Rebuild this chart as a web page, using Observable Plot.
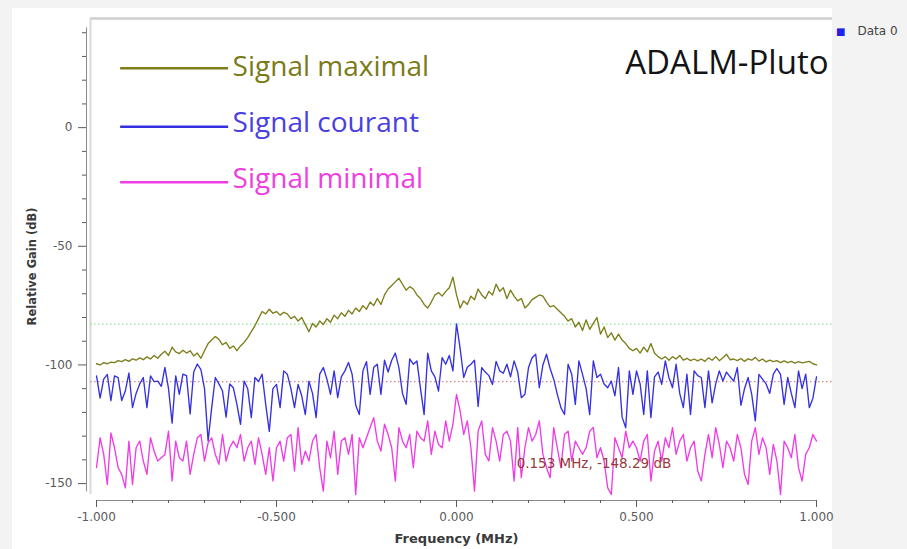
<!DOCTYPE html>
<html><head><meta charset="utf-8">
<script src="https://cdn.jsdelivr.net/npm/d3@7"></script>
<script src="https://cdn.jsdelivr.net/npm/@observablehq/plot@0.6"></script>
<style>
html,body{margin:0;padding:0;}
body{width:907px;height:549px;overflow:hidden;background:#f3f3f3;}
#chart{position:relative;width:907px;height:549px;background:linear-gradient(#fff,#fff) 12px 8px/820px 541px no-repeat;}
#chart svg{display:block;}
</style></head><body><div id="chart"></div>
<script>
// Frequency bins (MHz): FFT grid from -1 to 1 with 0.01 MHz spacing
const freqStart = -1, freqStep = 0.01;

// Relative gain (dB)
const maxGain = [
-99.5,-100,-99,-99.5,-98.8,-99,-98.2,-98.6,-97.8,-98.5,
-97.4,-98,-97,-97.8,-96.6,-97.5,-96,-97.2,-95.5,-94.2,
-96,-92.5,-94.5,-95.2,-93.8,-95,-94,-96.2,-95,-97.2,
-94,-91,-89.5,-88,-89.2,-91.5,-90.5,-93,-92,-94,
-92,-90.5,-88.5,-86,-83.5,-80.5,-77.5,-78.5,-76.5,-78.2,
-77.5,-79,-77.8,-78.5,-80.5,-79.5,-81.5,-80,-83,-86,
-82.5,-84,-81.5,-83,-80.5,-82,-79,-80.5,-78,-79.5,
-77,-78.5,-76,-77.5,-75,-76.5,-73.5,-75,-72,-74.5,
-70.5,-68,-66.5,-65,-63.5,-66,-68.5,-67,-68,-70.5,
-72,-74.5,-76,-73.5,-70.5,-69.5,-71,-69,-67.5,-63,
-70.5,
-76,-73,-74.5,-71,-72.5,-68,-70.5,-72,-69,-70.5,
-66,-69,-67.5,-72,-68.5,-71,-73,-72,-76,-74.5,
-72.5,-71.5,-70.5,-71,-73.5,-75.5,-75,-76.5,-78,-79.5,
-81.5,-80.5,-84,-82,-85.5,-81,-85,-82.5,-80,-87,
-84,-88.5,-86.5,-89.5,-87,-89.5,-91,-93,-94,-93,
-95,-92.5,-94.5,-91,-95,-96.5,-97.5,-96.5,-98,-96.5,
-97.5,-96,-98,-97.2,-98.2,-97.5,-98.3,-97.5,-98.5,-97,
-98,-96.5,-98.2,-97,-95.5,-97.8,-97.5,-98.2,-97.3,-98.5,
-97.4,-98,-96.8,-98.4,-97.5,-98.7,-98,-98.6,-98.2,-99,
-98.3,-99,-98.5,-99.2,-98.6,-99.1,-98.8,-98.5,-99.5,-100
];
const curGain = [
-104.6,-114,-106,-104,-115,-104.6,-105.3,-115,-111,-103.4,
-118,-112,-108,-105.3,-118,-104.6,-107,-106.8,-109,-101,
-110,-124.5,-104.6,-112.4,-103.9,-104.5,-120.7,-103,-99.6,-102,
-110,-132,-118,-105.3,-108,-111,-122,-108,-109.6,-116.6,
-125,-106.8,-110,-122.2,-105.3,-107,-103.9,-116.6,-128,-110,
-108.2,-118,-102.5,-103.9,-110,-118,-108.2,-113,-120.9,-106.8,
-112,-122.2,-103.9,-101.1,-106,-112.4,-102.5,-113.8,-105,-102.5,
-99,-103.9,-117,-120.9,-102.5,-98.6,-112.4,-101,-99.7,-112.4,
-98,-103,-98,-95,-101.1,-112,-116.6,-97.5,-99.7,-98.3,
-110,-120.9,-95,-102.5,-105,-111,-96.9,-99.7,-96,-102.5,
-82.7,
-93,-105.3,-101,-99.7,-98,-117.5,-101.1,-103,-104.5,-108.2,
-98.5,-102.5,-103.5,-99.7,-105,-98.3,-103,-113.8,-112.4,-101.1,
-97,-95.5,-109.6,-100,-95.5,-101.5,-106,-112.4,-118,-120.9,
-99.7,-103.9,-116.6,-98.3,-104,-110,-120.9,-98.3,-105.3,-103.9,
-108,-109.6,-106.8,-113,-101.1,-122,-126.5,-102.5,-112.4,-102.5,
-108,-120.9,-102.5,-122.2,-105,-103,-108.2,-98.3,-105.3,-109.6,
-99.7,-112,-118,-103.9,-120.9,-102.5,-104.5,-105.3,-118,-102.5,
-116,-108,-102.5,-106.8,-103,-105,-106.8,-101.1,-117,-110,
-105.3,-112.4,-123.6,-104,-106,-108,-112,-103.9,-101.5,-104,
-116.6,-105.3,-112,-118,-102.5,-110,-103.9,-118,-114,-105
];
const minGain = [
-143.3,-130.7,-137.7,-150.4,-128.6,-134.9,-143.3,-146.1,-151.8,-132.1,
-150.4,-134.9,-132.1,-140.5,-146.1,-130.7,-136.3,-140.5,-139.1,-137.7,
-127.9,-148.9,-132.1,-139.1,-140.5,-132.1,-146.1,-137.7,-130.7,-129.3,
-140.5,-132.8,-130.7,-137.7,-141.9,-129.3,-140.5,-134.9,-132.1,-134.9,
-129.3,-140.5,-134.9,-132.1,-141.9,-130.7,-137.7,-146.1,-134.9,-148.9,
-134.9,-132.1,-140.5,-130.7,-129.3,-144.7,-126.4,-141.9,-136.3,-140.5,
-132.1,-129.3,-143.3,-153.2,-132.1,-139.1,-127.9,-146.1,-132.1,-130.7,
-137.7,-129.3,-154.6,-130.7,-134.9,-130.7,-126.4,-122.2,-132.1,-136.3,
-125.0,-129.3,-134.9,-148.9,-126.4,-132.1,-134.9,-129.3,-143.3,-127.9,
-130.7,-132.1,-123.6,-137.7,-127.9,-133.5,-134.9,-123.6,-132.1,-125.0,
-112.4,
-119.4,-129.3,-123.6,-134.9,-153.2,-127.9,-123.6,-137.7,-140.5,-126.4,
-132.1,-140.5,-129.3,-127.9,-132.1,-148.9,-126.4,-147.5,-134.9,-126.4,
-132.1,-129.3,-123.6,-137.7,-143.3,-147.5,-126.4,-134.9,-143.3,-129.3,
-127.9,-140.5,-132.1,-134.9,-137.7,-134.9,-127.9,-126.4,-139.1,-134.9,
-140.5,-151.8,-154.6,-130.7,-134.9,-139.1,-127.9,-134.9,-132.1,-134.9,
-140.5,-132.1,-129.3,-148.9,-136.3,-132.1,-140.5,-130.7,-134.9,-126.4,
-137.7,-132.1,-129.3,-140.5,-134.9,-132.1,-144.7,-148.9,-137.7,-129.3,
-139.1,-126.4,-133.5,-143.3,-132.1,-134.9,-140.5,-129.3,-134.9,-146.1,
-150.4,-132.1,-126.4,-137.7,-130.7,-134.9,-146.1,-133.5,-140.5,-154.6,
-132.1,-134.9,-139.1,-129.3,-143.3,-148.9,-137.7,-134.9,-129.3,-132.1
];

const seriesNames = ["Signal maximal", "Signal courant", "Signal minimal"];
const seriesColors = ["#7d7d1a", "#3530e0", "#f03ce6"];
const textColors = ["#7a7a17", "#4a3fe0", "#ee40e0"];
const legendLineY = [25, 0.4, -23];
const legendTextY = [25.7, 2.1, -21.5];
const legendX = [-0.933, -0.633, -0.622];
const markerLevels = [-82.8, -107];
const markerColors = ["#8fe48f", "#d08a8a"];
const xMajor = [-1, -0.5, 0, 0.5, 1];
const xMinor = [-0.9,-0.8,-0.7,-0.6,-0.4,-0.3,-0.2,-0.1,0.1,0.2,0.3,0.4,0.6,0.7,0.8,0.9];
const yMajor = [0, -50, -100, -150];
const yMinor = [40,30,20,10,-10,-20,-30,-40,-60,-70,-80,-90,-110,-120,-130,-140];
const titleText = "ADALM-Pluto";
const titlePos = [1.0333, 27.2];
const annotationText = "0.153 MHz, -148.29 dB";
const annotationPos = [0.167, -141.6];
const xTitle = "Frequency (MHz)";
const yTitle = "Relative Gain (dB)";
const legendEntry = "Data 0";

const xDomain = [-1.0167, 1.0444];
const yDomain = [-154.6, 46];

const series = [maxGain, curGain, minGain].map(arr =>
  arr.map((g, i) => ({f: freqStart + i * freqStep, g})));

const marks = [];
// canvas border (top + left)
marks.push(Plot.ruleY([yDomain[1]], {stroke: "#cfcfcf", strokeWidth: 2.5}));
marks.push(Plot.ruleX([xDomain[0]], {stroke: "#d8d8d8", strokeWidth: 2}));
// marker lines
markerLevels.forEach((lv, i) => marks.push(Plot.ruleY([lv], {stroke: markerColors[i], strokeDasharray: "1.5,2.5", strokeWidth: 1.2})));
// traces
series.forEach((s, i) => marks.push(Plot.line(s, {x: "f", y: "g", stroke: seriesColors[i], strokeWidth: 1.35})));
// legend inside plot
seriesNames.forEach((name, i) => {
  marks.push(Plot.ruleY([legendLineY[i]], {x1: legendX[0], x2: legendX[1], stroke: seriesColors[i], strokeWidth: 2.5}));
  marks.push(Plot.text([name], {x: legendX[2], y: legendTextY[i], textAnchor: "start", fill: textColors[i], fontSize: 28, fontFamily: "Open Sans"}));
});
marks.push(Plot.text([titleText], {x: titlePos[0], y: titlePos[1], textAnchor: "end", fill: "#141414", fontSize: 33, fontFamily: "Open Sans"}));
marks.push(Plot.text([annotationText], {x: annotationPos[0], y: annotationPos[1], textAnchor: "start", fill: "#8b2020", fillOpacity: 0.9, fontSize: 13.5}));
// axes
marks.push(Plot.ruleX([xDomain[0]], {y1: 42, y2: -153.5, dx: -4, stroke: "#8a8a8a"}));
marks.push(Plot.axisY({ticks: yMajor, anchor: "left", tickSize: 8, dx: -4, tickPadding: 6, tickFormat: d => String(d), label: null, color: "#5a5a5a"}));
marks.push(Plot.axisY({ticks: yMinor, anchor: "left", tickSize: 4, dx: -4, tickFormat: () => "", label: null, color: "#5a5a5a"}));
marks.push(Plot.ruleY([yDomain[0]], {x1: -1, x2: 1, dy: 6, stroke: "#8a8a8a"}));
marks.push(Plot.axisX({ticks: xMajor, anchor: "bottom", tickSize: 7, dy: 6, tickPadding: 5, tickFormat: d => d.toFixed(3), label: null, color: "#5a5a5a"}));
marks.push(Plot.axisX({ticks: xMinor, anchor: "bottom", tickSize: 3, dy: 6, tickFormat: () => "", label: null, color: "#5a5a5a"}));
marks.push(Plot.text([xTitle], {frameAnchor: "bottom", lineAnchor: "middle", dx: -5, dy: 44, fontWeight: "bold", fontSize: 13, fill: "#3a3a3a"}));
marks.push(Plot.text([yTitle], {frameAnchor: "left", textAnchor: "middle", lineAnchor: "middle", dx: -58, dy: 10, rotate: -90, fontWeight: "bold", fontSize: 11.5, fill: "#3a3a3a"}));
// external legend
marks.push(Plot.text(["\u25A0"], {frameAnchor: "top-right", lineAnchor: "middle", dx: 13, dy: 13, fill: "#2222e6", fontSize: 10}));
marks.push(Plot.text([legendEntry], {frameAnchor: "top-right", lineAnchor: "middle", dx: 25, dy: 13, textAnchor: "start", fill: "#444", fontSize: 12}));

const chart = Plot.plot({
  width: 907, height: 549,
  marginLeft: 90, marginRight: 75, marginTop: 18, marginBottom: 55,
  x: {domain: xDomain},
  y: {domain: yDomain},
  style: {fontFamily: "DejaVu Sans", fontSize: "12px", color: "#505050", background: "transparent", overflow: "visible"},
  marks
});
document.getElementById("chart").appendChild(chart);
</script></body></html>
